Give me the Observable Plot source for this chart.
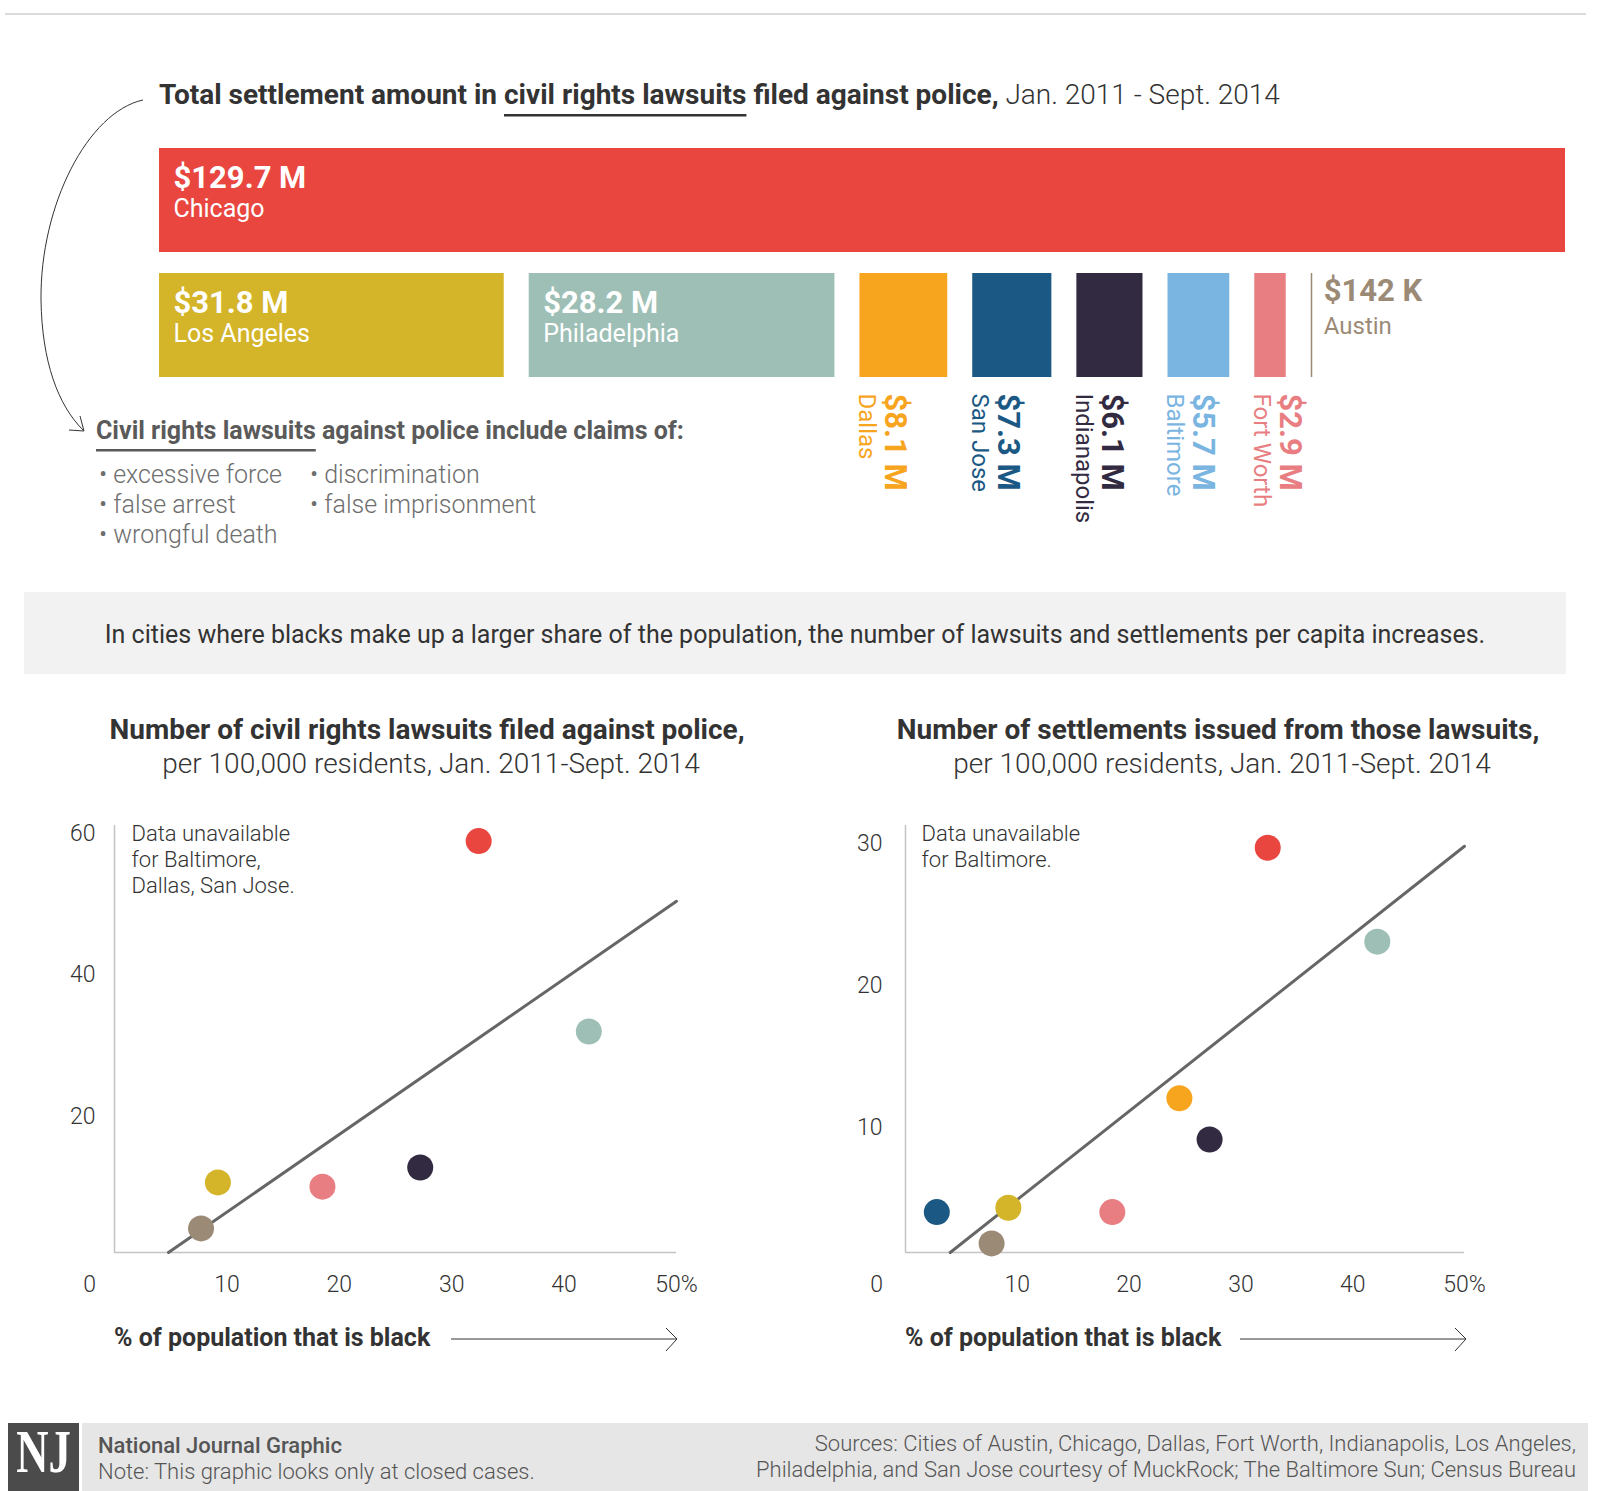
<!DOCTYPE html>
<html><head><meta charset="utf-8">
<script src="https://cdn.jsdelivr.net/npm/d3@7"></script>
<script src="https://cdn.jsdelivr.net/npm/@observablehq/plot@0.6"></script>
<style>
html,body{margin:0;padding:0;background:#fff;overflow:hidden}
#page{position:relative;width:1600px;height:1491px;font-family:Roboto,"Noto Sans",sans-serif}
#page > svg, #page > div {position:absolute}
#page text{white-space:pre}
</style></head>
<body><div id="page"></div>
<script>
// ---------------- DATA ----------------
const cities = ["Chicago","Los Angeles","Philadelphia","Dallas","San Jose","Indianapolis","Baltimore","Fort Worth","Austin"];
const settlementM = [129.7, 31.8, 28.2, 8.1, 7.3, 6.1, 5.7, 2.9, 0.142];
const settlementLabels = ["$129.7 M","$31.8 M","$28.2 M","$8.1 M","$7.3 M","$6.1 M","$5.7 M","$2.9 M","$142 K"];
const cityColors = ["#e8463f","#d4b428","#9ebfb6","#f7a51f","#1b5984","#312a41","#7ab4e1","#e87e82","#9b8a76"];
const labelPlacement = ["inside","inside","inside","below","below","below","below","below","side"];
const pctBlack = [32.4, 9.2, 42.2, 24.5, 2.8, 27.2, null, 18.5, 7.7];
const lawsuitsPer100k = [58.9, 10.7, 32.0, null, null, 12.8, null, 10.1, 4.2];
const settlementsPer100k = [29.7, 4.4, 23.1, 12.1, 4.1, 9.2, null, 4.1, 1.9];
const lawsuitTrendX = [4.8, 50], lawsuitTrendY = [0.8, 50.4];
const settleTrendX = [4.0, 50], settleTrendY = [1.26, 29.8];
const pctTicks = [10, 20, 30, 40, 50];
const lawsuitTicks = [20, 40, 60];
const settlementTicks = [10, 20, 30];
const claimsCol1 = ["excessive force","false arrest","wrongful death"];
const claimsCol2 = ["discrimination","false imprisonment"];

// ---------------- LAYOUT ----------------
const page = document.getElementById("page");
const FONT = "Roboto, 'Noto Sans', sans-serif";

// ---- Bars (treemap-like strip) ----
const barW = 1600, barML = 159, barMR = 35;
const pxPerM = (barW - barML - barMR) / settlementM[0];
const gapM = 25 / pxPerM;
let cursor = 0;
const barRows = cities.map((c, i) => {
  const d = {city: c, label: settlementLabels[i], col: cityColors[i], place: labelPlacement[i]};
  if (i === 0) { d.row = "row1"; d.x1 = 0; d.x2 = settlementM[i]; }
  else { d.row = "row2"; d.x1 = cursor; d.x2 = cursor + settlementM[i]; cursor += settlementM[i] + gapM; }
  return d;
});
const inside = barRows.filter(d => d.place === "inside");
const below = barRows.filter(d => d.place === "below");
const side = barRows.filter(d => d.place === "side");

const barPlot = Plot.plot({
  width: barW, height: 560,
  marginLeft: barML, marginRight: barMR, marginTop: 0, marginBottom: 0,
  x: {domain: [0, settlementM[0]], axis: null},
  y: {domain: ["row1","row2"], range: [148, 377], paddingInner: 0.168, paddingOuter: 0, axis: null},
  color: {type: "identity"},
  style: {fontFamily: FONT, background: "transparent", overflow: "visible"},
  marks: [
    Plot.barX(barRows, {x1: "x1", x2: "x2", y: "row", fill: "col"}),
    Plot.text(inside, {x: "x1", y: "row", text: "label", dx: 14, dy: -12.5, textAnchor: "start", lineAnchor: "bottom", fill: "white", fontSize: 31, fontWeight: 700}),
    Plot.text(inside, {x: "x1", y: "row", text: "city", dx: 14, dy: 16, textAnchor: "start", lineAnchor: "bottom", fill: "white", fontSize: 25, fontWeight: 400}),
    Plot.text(side, {x: "x2", y: "row", text: "label", dx: 11, dy: -25, textAnchor: "start", lineAnchor: "bottom", fill: "col", fontSize: 31, fontWeight: 700}),
    Plot.text(side, {x: "x2", y: "row", text: "city", dx: 11, dy: 8, textAnchor: "start", lineAnchor: "bottom", fill: "col", fontSize: 24, fontWeight: 400}),
    Plot.text(below, {x: "x1", y: "row", text: "label", rotate: 90, dx: 25, dy: 68, textAnchor: "start", lineAnchor: "bottom", fill: "col", fontSize: 31, fontWeight: 700}),
    Plot.text(below, {x: "x1", y: "row", text: "city", rotate: 90, dx: -1, dy: 68, textAnchor: "start", lineAnchor: "bottom", fill: "col", fontSize: 24, fontWeight: 400})
  ]
});
barPlot.style.left = "0px"; barPlot.style.top = "0px";
page.appendChild(barPlot);

// ---- Scatter plots ----
function scatter({yVals, yDomain, yTicks, trendX, trendY, note, left, mLeft, mRight, yPad, zeroDx, noteDx}) {
  const pts = cities.map((c, i) => ({city: c, x: pctBlack[i], y: yVals[i], col: cityColors[i]}))
    .filter(d => d.x != null && d.y != null);
  const trend = trendX.map((x, i) => ({x, y: trendY[i]}));
  const p = Plot.plot({
    width: 800, height: 500,
    marginTop: 25, marginBottom: 48, marginLeft: mLeft, marginRight: mRight,
    x: {domain: [0, 50], ticks: pctTicks, tickFormat: d => d === 50 ? "50%" : String(d), tickSize: 0, tickPadding: 23, label: null},
    y: {domain: yDomain, ticks: yTicks, tickSize: 0, tickPadding: yPad, label: null},
    color: {type: "identity"},
    style: {fontFamily: FONT, fontSize: "23px", fontWeight: 300, color: "#333", background: "transparent", overflow: "visible"},
    marks: [
      Plot.ruleX([0], {stroke: "#c4c4c4", strokeWidth: 1.5}),
      Plot.ruleY([yDomain[0]], {stroke: "#c4c4c4", strokeWidth: 1.5}),
      Plot.line(trend, {x: "x", y: "y", stroke: "#666", strokeWidth: 3}),
      Plot.dot(pts, {x: "x", y: "y", r: 13, fill: "col"}),
      Plot.text(["0"], {frameAnchor: "bottom-left", text: d => d, dx: zeroDx, dy: 23, lineAnchor: "top", textAnchor: "middle", fill: "#333", fontSize: 23, fontWeight: 300}),
      Plot.text([note], {frameAnchor: "top-left", text: d => d, dx: noteDx, dy: -3, lineAnchor: "top", textAnchor: "start", fill: "#333", fontSize: 22, fontWeight: 300, lineHeight: 1.18})
    ]
  });
  p.style.left = left + "px"; p.style.top = "800px";
  page.appendChild(p);
}
scatter({yVals: lawsuitsPer100k, yDomain: [0.8, 61.1], yTicks: lawsuitTicks, trendX: lawsuitTrendX, trendY: lawsuitTrendY,
  note: "Data unavailable\nfor Baltimore,\nDallas, San Jose.", left: 0, mLeft: 114, mRight: 124, yPad: 19, zeroDx: -25, noteDx: 17});
scatter({yVals: settlementsPer100k, yDomain: [1.26, 31.26], yTicks: settlementTicks, trendX: settleTrendX, trendY: settleTrendY,
  note: "Data unavailable\nfor Baltimore.", left: 800, mLeft: 105, mRight: 136, yPad: 23, zeroDx: -29, noteDx: 16});

// ---- Text / decoration overlay ----
const ov = d3.select(page).append("svg").attr("width", 1600).attr("height", 1491)
  .style("left", "0px").style("top", "0px").style("pointer-events", "none")
  .attr("font-family", FONT);

function rich(x, y, parts, {size, fill, anchor = "start"}) {
  const t = ov.append("text").attr("x", x).attr("y", y).attr("font-size", size).attr("fill", fill).attr("text-anchor", anchor);
  const nodes = parts.map(p => t.append("tspan").attr("font-weight", p.w || 400).text(p.t).node());
  parts.forEach((p, i) => {
    if (p.u) {
      const n = nodes[i];
      const sx = n.getStartPositionOfChar(0).x;
      const len = n.getComputedTextLength();
      ov.append("rect").attr("x", sx).attr("y", y + p.u).attr("width", len).attr("height", 2.5).attr("fill", fill);
    }
  });
  return t;
}

// top rule
ov.append("rect").attr("x", 5).attr("y", 13).attr("width", 1581).attr("height", 2).attr("fill", "#dadada");
// title
rich(159, 104, [
  {t: "Total settlement amount in ", w: 700},
  {t: "civil rights lawsuits", w: 700, u: 10},
  {t: " filed against police,", w: 700},
  {t: " Jan. 2011 - Sept. 2014", w: 300}
], {size: 28, fill: "#333"});
// curved arrow
ov.append("path").attr("d", "M143,100 C88,112 40,205 41,300 C42,362 58,405 83,430")
  .attr("fill", "none").attr("stroke", "#333").attr("stroke-width", 1);
ov.append("path").attr("d", "M69,430 L84,431 L80,416").attr("fill", "none").attr("stroke", "#333").attr("stroke-width", 1);
// claims
rich(96, 439, [
  {t: "Civil rights lawsuits", w: 700, u: 10},
  {t: " against police include claims of:", w: 700}
], {size: 25, fill: "#5a5a5a"});
claimsCol1.forEach((s, i) => rich(99, 483 + i * 30, [{t: "• " + s, w: 300}], {size: 25, fill: "#6e6e6e"}));
claimsCol2.forEach((s, i) => rich(310, 483 + i * 30, [{t: "• " + s, w: 300}], {size: 25, fill: "#6e6e6e"}));
// banner
ov.append("rect").attr("x", 24).attr("y", 592).attr("width", 1542).attr("height", 82).attr("fill", "#f2f2f2");
rich(795, 643, [{t: "In cities where blacks make up a larger share of the population, the number of lawsuits and settlements per capita increases.", w: 400}], {size: 25, fill: "#333", anchor: "middle"});
// scatter titles
rich(427, 739, [{t: "Number of civil rights lawsuits filed against police,", w: 700}], {size: 28, fill: "#333", anchor: "middle"});
rich(431, 773, [{t: "per 100,000 residents, Jan. 2011-Sept. 2014", w: 300}], {size: 28, fill: "#333", anchor: "middle"});
rich(1218, 739, [{t: "Number of settlements issued from those lawsuits,", w: 700}], {size: 28, fill: "#333", anchor: "middle"});
rich(1222, 773, [{t: "per 100,000 residents, Jan. 2011-Sept. 2014", w: 300}], {size: 28, fill: "#333", anchor: "middle"});
// axis labels with arrows
[[114, 451, 677], [905, 1240, 1466]].forEach(([tx, a1, a2]) => {
  rich(tx, 1346, [{t: "% of population that is black", w: 700}], {size: 25, fill: "#333"});
  ov.append("line").attr("x1", a1).attr("x2", a2).attr("y1", 1339).attr("y2", 1339).attr("stroke", "#333").attr("stroke-width", 1);
  ov.append("path").attr("d", `M${a2 - 11},1328 L${a2},1339 L${a2 - 11},1351`).attr("fill", "none").attr("stroke", "#333").attr("stroke-width", 1);
});
// footer
ov.append("rect").attr("x", 82).attr("y", 1423).attr("width", 1506).attr("height", 68).attr("fill", "#e6e6e6");
ov.append("rect").attr("x", 8).attr("y", 1423).attr("width", 71).attr("height", 68).attr("fill", "#4b4b4b");
ov.append("text").attr("transform", "translate(43.5,1472) scale(0.72,1)").attr("text-anchor", "middle")
  .attr("font-family", "'Liberation Serif', 'DejaVu Serif', serif").attr("font-weight", 700).attr("font-size", 62).attr("fill", "#fff").text("NJ");
rich(98, 1453, [{t: "National Journal Graphic", w: 500}], {size: 22, fill: "#555"});
rich(98, 1479, [{t: "Note: This graphic looks only at closed cases.", w: 300}], {size: 22, fill: "#555"});
rich(1576, 1451, [{t: "Sources: Cities of Austin, Chicago, Dallas, Fort Worth, Indianapolis, Los Angeles,", w: 300}], {size: 22, fill: "#555", anchor: "end"});
rich(1576, 1477, [{t: "Philadelphia, and San Jose courtesy of MuckRock; The Baltimore Sun; Census Bureau", w: 300}], {size: 22, fill: "#555", anchor: "end"});
</script>
</body></html>
